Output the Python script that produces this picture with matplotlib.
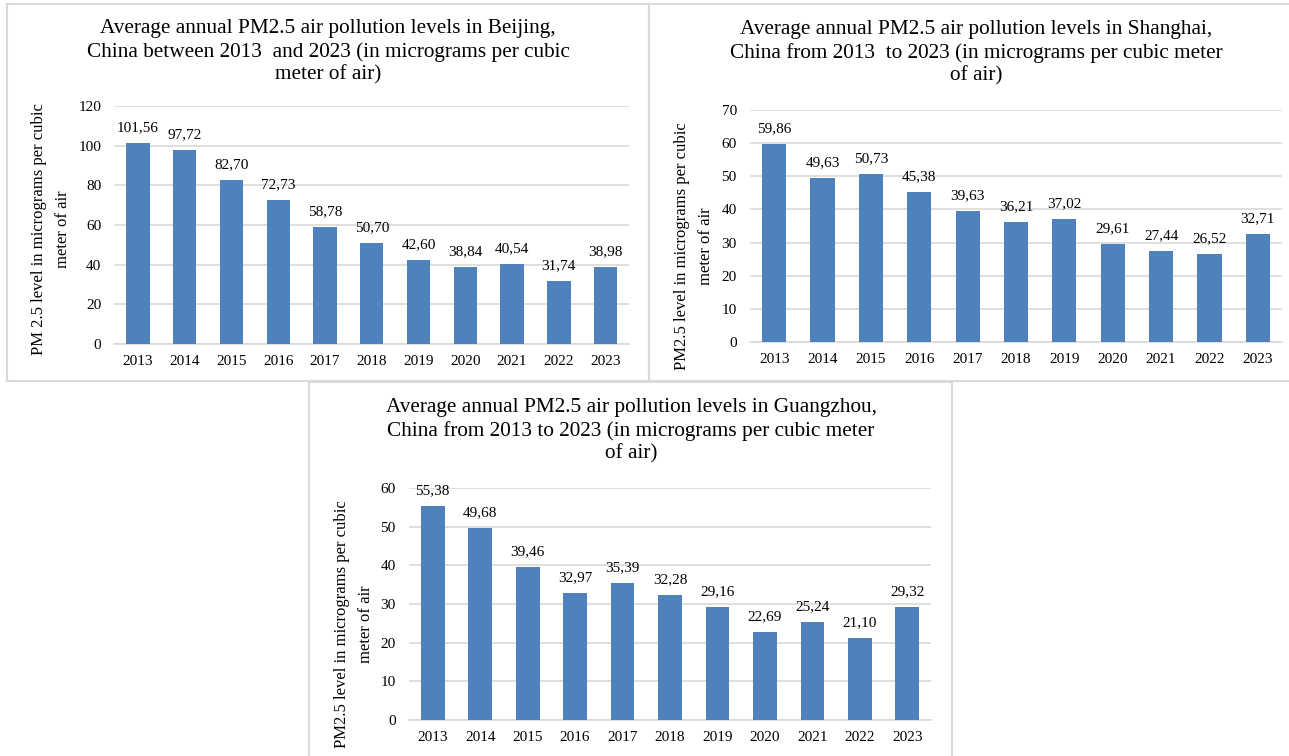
import matplotlib
matplotlib.use("Agg")
import matplotlib.pyplot as plt
from matplotlib.patches import Rectangle

plt.rcParams['font.family'] = ['Liberation Serif', 'DejaVu Serif']

years = ["2013", "2014", "2015", "2016", "2017", "2018", "2019", "2020", "2021", "2022", "2023"]
beijing = [101.56, 97.72, 82.70, 72.73, 58.78, 50.70, 42.60, 38.84, 40.54, 31.74, 38.98]
shanghai = [59.86, 49.63, 50.73, 45.38, 39.63, 36.21, 37.02, 29.61, 27.44, 26.52, 32.71]
guangzhou = [55.38, 49.68, 39.46, 32.97, 35.39, 32.28, 29.16, 22.69, 25.24, 21.10, 29.32]

titles = [
    "Average annual PM2.5 air pollution levels in Beijing,\nChina between 2013  and 2023 (in micrograms per cubic\nmeter of air)",
    "Average annual PM2.5 air pollution levels in Shanghai,\nChina from 2013  to 2023 (in micrograms per cubic meter\nof air)",
    "Average annual PM2.5 air pollution levels in Guangzhou,\nChina from 2013 to 2023 (in micrograms per cubic meter\nof air)",
]
ylabels = [
    "PM 2.5 level in micrograms per cubic\nmeter of air",
    "PM2.5 level in micrograms per cubic\nmeter of air",
    "PM2.5 level in micrograms per cubic\nmeter of air",
]
ylims = [(0, 120, 20), (0, 70, 10), (0, 60, 10)]

W, H = 1289, 756
fig = plt.figure(figsize=(W / 100, H / 100), dpi=100)
fig.patch.set_facecolor("white")

def fx(px):
    return px / W

def fy(py):
    return 1 - py / H

# panel borders (left, top, right, bottom) in pixels
panels = [(7, 4, 649, 381), (649, 4, 1292, 381), (309, 382, 952, 760)]
for (l, t, r, b) in panels:
    fig.patches.append(Rectangle((fx(l), fy(b)), fx(r - l), (b - t) / H,
                                 transform=fig.transFigure, fill=False,
                                 edgecolor="#D9D9D9", linewidth=1.5, zorder=0))

# axes boxes (left, top, right, bottom) in pixels
axboxes = [(114.5, 106, 629, 344), (750, 110, 1282, 342), (409, 488, 931, 720)]
title_pos = [(328, 52), (976, 53), (631, 431)]
ylabel_pos = [(51, 229), (694, 246), (354, 624)]

datasets = [beijing, shanghai, guangzhou]
bar_color = "#4F81BD"
grid_color = "#D9D9D9"

for i, vals in enumerate(datasets):
    l, t, r, b = axboxes[i]
    ax = fig.add_axes([fx(l), fy(b), fx(r - l), (b - t) / H])
    x = list(range(len(years)))
    ax.bar(x, vals, width=0.5, color=bar_color, zorder=3)
    lo, hi, step = ylims[i]
    ax.set_ylim(lo, hi)
    ax.set_xlim(-0.5, len(years) - 0.5)
    ax.set_yticks(list(range(lo, hi + 1, step)))
    ax.set_xticks(x)
    ax.set_xticklabels(years)
    ax.tick_params(axis="both", length=0, labelsize=11, colors="black")
    ax.tick_params(axis="y", pad=9.5)
    ax.tick_params(axis="x", pad=8)
    ax.yaxis.grid(True, color=grid_color, linewidth=1.2, zorder=0)
    ax.set_axisbelow(True)
    for s in ["top", "right", "left"]:
        ax.spines[s].set_visible(False)
    ax.spines["bottom"].set_color(grid_color)
    ax.spines["bottom"].set_linewidth(1.2)
    for xi, v in zip(x, vals):
        ax.annotate(f"{v:.2f}".replace(".", ","), (xi, v), xytext=(0, 11),
                    textcoords="offset points", ha="center", va="center",
                    fontsize=11, color="black")
    tx, ty = title_pos[i]
    fig.text(fx(tx), fy(ty), titles[i], ha="center", va="center",
             fontsize=15.3, linespacing=1.25, color="black")
    lx, ly = ylabel_pos[i]
    fig.text(fx(lx), fy(ly), ylabels[i], ha="center", va="center",
             rotation=90, fontsize=12, linespacing=1.6, color="black")

fig.savefig("out.png", dpi=100, facecolor="white")
